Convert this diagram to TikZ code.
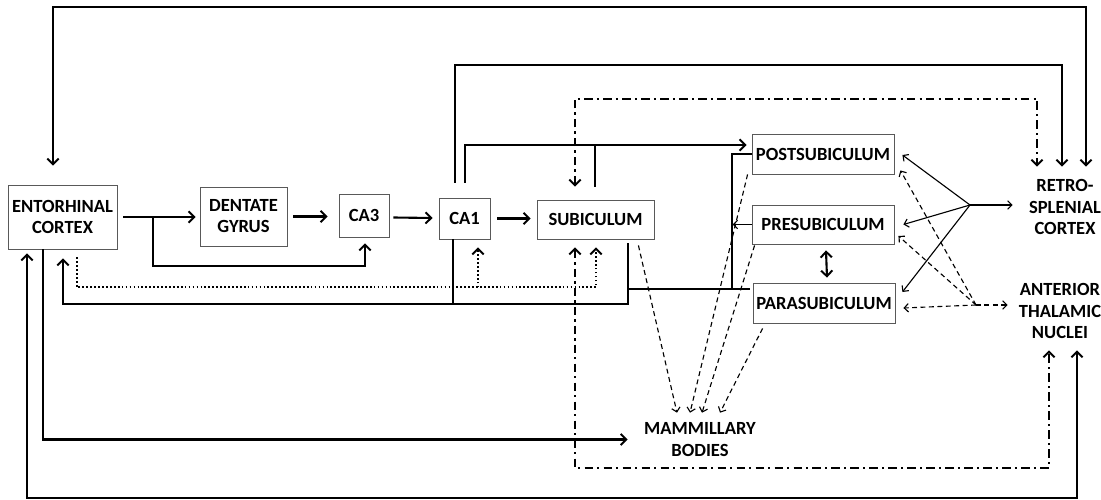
\documentclass[tikz,border=0pt]{standalone}
\usepackage{fontspec}
\setmainfont{Carlito}
\usetikzlibrary{arrows.meta,calc}

\tikzset{
  box/.style={draw=black!65, line width=0.6pt, inner sep=0pt, align=center,
    font=\fontsize{13.2}{15}\selectfont\bfseries},
  lbl/.style={inner sep=0pt, align=center,
    font=\fontsize{13.2}{15}\selectfont\bfseries},
  main/.style={line width=1.5pt, line join=miter},
  fine/.style={line width=0.8pt},
  dashdot/.style={line width=1.4pt, dash pattern=on 6pt off 3pt on 1.5pt off 3pt},
  dots/.style={line width=1.4pt, dash pattern=on 1.2pt off 1.6pt},
  thindash/.style={line width=0.8pt, dash pattern=on 3.5pt off 2.5pt},
  bigtip/.style={>={Straight Barb[length=4pt,width=8pt,line width=1.4pt]}},
  smalltip/.style={>={Straight Barb[length=3pt,width=6pt,line width=0.8pt]}},
}

\begin{document}
\begin{tikzpicture}[x=0.025cm, y=-0.025cm]
\useasboundingbox (0,0) rectangle (1101,500);

% ---------- regions ----------
\node[box, minimum width=109*0.025cm, minimum height=64*0.025cm] (ec)   at (62.5,217)  {ENTORHINAL\\CORTEX};
\node[box, minimum width=87*0.025cm,  minimum height=59*0.025cm] (dg)   at (243.5,216.5) {DENTATE\\GYRUS};
\node[box, minimum width=50*0.025cm,  minimum height=43*0.025cm] (ca3)  at (364,215.5) {CA3};
\node[box, minimum width=51*0.025cm,  minimum height=41*0.025cm] (ca1)  at (464.5,218.5) {CA1};
\node[box, minimum width=117*0.025cm, minimum height=39*0.025cm] (sub)  at (595.5,219.5) {SUBICULUM};
\node[box, minimum width=142*0.025cm, minimum height=40*0.025cm] (post) at (823,154) {POSTSUBICULUM};
\node[box, minimum width=142*0.025cm, minimum height=39*0.025cm] (pre)  at (823,224.5) {PRESUBICULUM};
\node[box, minimum width=142*0.025cm, minimum height=40*0.025cm] (para) at (824,303) {PARASUBICULUM};

\node[lbl, minimum width=104*0.025cm, minimum height=80*0.025cm] (rsc) at (1065,207) {RETRO-\\SPLENIAL\\CORTEX};
\node[lbl, minimum width=104*0.025cm, minimum height=78*0.025cm] (atn) at (1060,311) {ANTERIOR\\THALAMIC\\NUCLEI};
\node[lbl, minimum width=144*0.025cm, minimum height=53*0.025cm] (mb)  at (700,439.5) {MAMMILLARY\\BODIES};

\coordinate (h1) at (970,205);
\coordinate (h2) at (976,305);

% ---------- long solid loops ----------
\begin{scope}[main, bigtip]
  % entorhinal <-> retrosplenial (top)
  \draw[<->] ($(ec.north)+(-9.5,-19)$) -- ++(0,-159) -| ($(rsc.north)+(21,0)$);
  % CA1 -> retrosplenial
  \draw[->] ($(ca1.north)+(-9.5,-15)$) -- ++(0,-118) -| ($(rsc.north)+(-3,0)$);
  % entorhinal <-> anterior thalamic (bottom)
  \draw[<->] ($(ec.south)+(-35.5,4)$) -- ++(0,245) -| ($(atn.south)+(17,0)$);
  % entorhinal -> mammillary bodies
  \draw[->] ($(ec.south)+(-19.5,0)$) |- (mb.west);

  % trisynaptic chain
  \draw[->] ($(ec.east)+(6,0)$) -- ($(ec.east -| dg.west)+(-4,0)$);
  \draw[->] ($(ec.east)+(36,0)$) -- ++(0,49) -| ($(ca3.south)+(1,6)$);
  \draw[->] ($(dg.east)+(6,0)$) -- ($(dg.east -| ca3.west)+(-11,0)$);
  \draw[->] ($(ca3.east)+(4,2)$) -- ($(ca1.west)+(-6,-0.5)$);
  \draw[->] ($(ca1.east)+(7,0)$) -- ($(ca1.east -| sub.west)+(-6,0)$);

  % CA1 / subiculum -> postsubiculum
  \draw[->] ($(ca1.north)+(0.5,-15)$) |- ($(post.west)+(-5,-9)$);
  \draw ($(sub.north)+(-0.5,-13)$) -- ++(0,-42);

  % return pathway to entorhinal cortex
  \draw[->] ($(sub.south)+(32.5,4)$) -- ++(0,61) -| ($(ec.south)+(0.5,9)$);
  \draw ($(ca1.south)+(-11.5,0)$) -- ++(0,65);
  \draw ($(para.west)+(-3,-14)$) -- ++(-122,0);
  \draw (post.west) -- ++(-20,0) -- ++(0,135);

  % presubiculum <-> parasubiculum
  \draw[<->] ($(pre.south)+(3,6)$) -- ($(para.north)+(3,-5)$);
\end{scope}

\draw[fine, smalltip, ->] (pre.west) -- ++(-19,0);

% ---------- dotted: entorhinal -> CA1, subiculum ----------
\draw[dots, bigtip, ->] ($(ec.south)+(14.5,8)$) -- ++(0,30) -| ($(sub.south)+(0.5,8)$);
\draw[dots, bigtip, ->] ($(ca1.south)+(13.5,48)$) -- ($(ca1.south)+(13.5,8)$);

% ---------- dash-dot: subiculum <-> retrosplenial / anterior thalamic ----------
\draw[dashdot, bigtip, <->] ($(sub.north)+(-20.5,-13)$) -- ++(0,-88) -| ($(rsc.north)+(-28,0)$);
\draw[dashdot, bigtip, <->] ($(sub.south)+(-20.5,8)$) -- ++(0,220.5) -| ($(atn.south)+(-11,0)$);

% ---------- dashed: projections to mammillary bodies ----------
\begin{scope}[thindash, smalltip]
  \draw[->] ($(sub.south east)+(-16,6)$) -- ($(mb.north)+(-23,0)$);
  \draw[->] ($(post.south west)+(-4,0)$) -- ($(mb.north)+(-10,0)$);
  \draw[->] ($(pre.south west)+(3,1)$) -- ($(mb.north)+(2,0)$);
  \draw[->] ($(para.south west)+(10,5)$) -- ($(mb.north)+(20,0)$);
\end{scope}

% ---------- retrosplenial fan ----------
\begin{scope}[fine, smalltip]
  \draw[->] (h1) -- ($(post.east)+(8,1)$);
  \draw[->] (h1) -- ($(pre.east)+(9,0)$);
  \draw[->] (h1) -- ($(para.east)+(7,-11)$);
  \draw[->] (h1) -- (h1 -| rsc.west);
\end{scope}

% ---------- anterior thalamic fan ----------
\begin{scope}[thindash, smalltip]
  \draw[->] (h2) -- ($(post.south east)+(6,-4)$);
  \draw[->] (h2) -- ($(pre.east)+(4,11.5)$);
  \draw[->] (h2) -- ($(para.east)+(8,5)$);
  \draw[->] (h2) -- (h2 -| atn.west);
\end{scope}
\end{tikzpicture}
\end{document}
